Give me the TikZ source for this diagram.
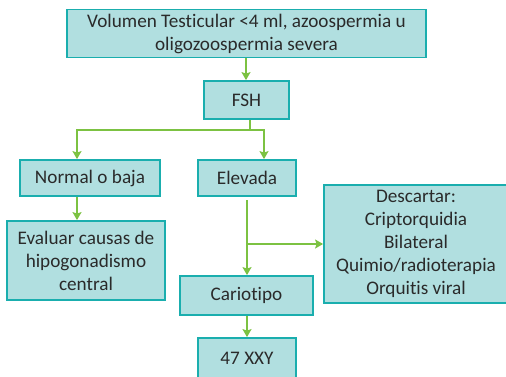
\documentclass[tikz,border=0pt]{standalone}
\usepackage{fontspec}
\setmainfont{Carlito}[Ligatures={NoCommon}]
\usetikzlibrary{arrows.meta}
\definecolor{boxfill}{HTML}{B1DFE0}
\definecolor{boxline}{HTML}{1AAEAE}
\definecolor{arrowgreen}{HTML}{7CC242}
\definecolor{txt}{HTML}{2A2A2A}
\begin{document}
\begin{tikzpicture}[x=1pt,y=-1pt,
  box/.style={draw=boxline,fill=boxfill,line width=1.8pt,text=txt,align=center,inner sep=0pt,font=\fontsize{19.2}{23}\selectfont},
  conn/.style={draw=arrowgreen,line width=1.8pt,-{Stealth[length=8pt,width=9pt,inset=1.5pt]}},
  plain/.style={draw=arrowgreen,line width=1.8pt}]
\useasboundingbox (0,0) rectangle (506,376);
\begin{scope}
\clip (0,0) rectangle (506,376);
\node[box,minimum width=359pt,minimum height=48pt] (top) at (246.5,33.5) {Volumen Testicular <4 ml, azoospermia u\\oligozoospermia severa};
\node[box,minimum width=85pt,minimum height=38pt] (fsh) at (246.5,100) {FSH};
\node[box,minimum width=140pt,minimum height=36pt] (norm) at (90,178) {Normal o baja};
\node[box,minimum width=98pt,minimum height=36pt] (elev) at (247,178) {Elevada};
\node[box,minimum width=158pt,minimum height=79pt] (eval) at (86,260.5) {Evaluar causas de\\hipogonadismo\\central};
\node[box,minimum width=184pt,minimum height=118pt] (desc) at (416,244) {Descartar:\\Criptorquidia\\Bilateral\\Quimio/radioterapia\\Orquitis viral};
\node[box,minimum width=133pt,minimum height=39pt] (cario) at (246.5,295.5) {Cariotipo};
\node[box,minimum width=98pt,minimum height=40pt] (xxy) at (247,358) {47 XXY};
\end{scope}
\coordinate (split) at (250,130);
\coordinate (el) at (247,200);
\coordinate (br) at (247,244);
\draw[conn] (top.south -| 246,0) -- (fsh.north -| 246,0);
\draw[plain] (fsh.south -| split) -- (split);
\draw[conn] (split) -| (norm.north -| 77,0);
\draw[conn] (split) -| (elev.north -| 264,0);
\draw[conn] (norm.south -| 77,0) -- (eval.north -| 77,0);
\draw[conn] (el) -- (cario.north -| el);
\draw[conn] (br) -- (desc.west |- br);
\draw[conn] (cario.south -| el) -- (xxy.north -| el);
\end{tikzpicture}
\end{document}
